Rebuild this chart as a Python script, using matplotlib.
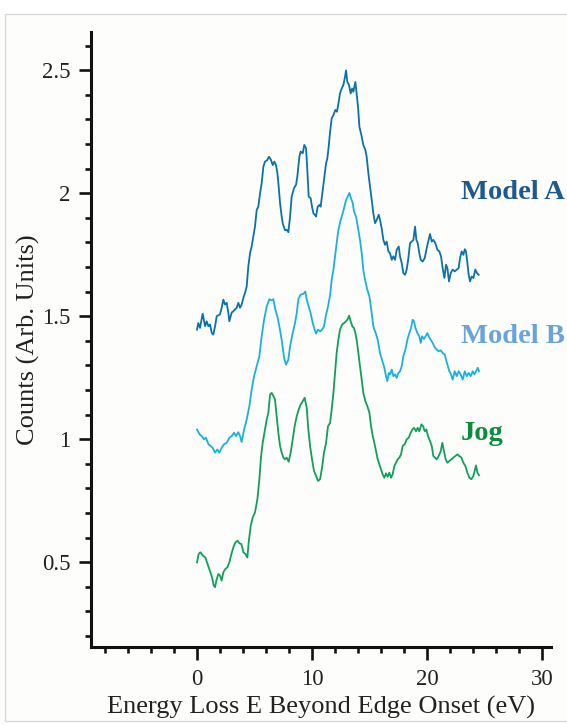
import matplotlib
matplotlib.use("Agg")
import matplotlib.pyplot as plt
from matplotlib.patches import Rectangle
from matplotlib.ticker import MultipleLocator

plt.rcParams['font.family'] = ['Liberation Serif', 'DejaVu Serif']

# ---------------- data ----------------
energy_a = [0.0, 0.11, 0.26, 0.49, 0.70, 0.84, 0.99, 1.13, 1.28, 1.42, 1.57, 1.71, 2.0, 2.14, 2.29,
            2.43, 2.58, 2.72, 2.81, 3.01, 3.16, 3.45, 3.59, 3.74, 3.88, 4.03, 4.17, 4.32, 4.46, 4.61,
            4.75, 4.9, 5.04, 5.19, 5.33, 5.48, 5.62, 5.77, 5.91, 6.12, 6.26, 6.43, 6.58, 6.72, 6.87,
            6.99, 7.10, 7.22, 7.36, 7.45, 7.65, 7.8, 7.94, 8.09, 8.23, 8.43, 8.61, 8.72, 8.9, 9.01,
            9.19, 9.33, 9.48, 9.59, 9.71, 9.88, 10.0, 10.12, 10.26, 10.35, 10.49, 10.64, 10.75, 10.93,
            11.07, 11.22, 11.33, 11.45, 11.57, 11.71, 11.86, 12.03, 12.17, 12.32, 12.43, 12.58, 12.72,
            12.84, 12.96, 13.07, 13.22, 13.36, 13.48, 13.59, 13.77, 13.88, 14.0, 14.12, 14.29, 14.46,
            14.64, 14.75, 14.9, 15.04, 15.19, 15.33, 15.48, 15.62, 15.8, 15.91, 16.06, 16.2, 16.35,
            16.49, 16.64, 16.78, 16.93, 17.07, 17.22, 17.36, 17.54, 17.65, 17.8, 17.94, 18.09, 18.23,
            18.38, 18.52, 18.67, 18.81, 18.96, 19.07, 19.19, 19.33, 19.45, 19.62, 19.8, 19.97, 20.14,
            20.26, 20.41, 20.55, 20.72, 20.9, 21.07, 21.22, 21.36, 21.51, 21.65, 21.77, 21.91, 22.06,
            22.23, 22.41, 22.58, 22.75, 22.87, 23.01, 23.16, 23.28, 23.39, 23.51, 23.62, 23.74, 23.88,
            24.03, 24.2, 24.35, 24.49]
counts_a = [1.445, 1.472, 1.452, 1.510, 1.459, 1.479, 1.459, 1.466, 1.432, 1.425, 1.459, 1.500, 1.507,
            1.534, 1.567, 1.547, 1.554, 1.514, 1.479, 1.514, 1.520, 1.534, 1.554, 1.534, 1.547, 1.574,
            1.594, 1.621, 1.702, 1.756, 1.783, 1.824, 1.864, 1.932, 1.945, 1.999, 2.040, 2.108, 2.128,
            2.135, 2.148, 2.135, 2.114, 2.128, 2.114, 2.081, 2.027, 1.959, 1.905, 1.878, 1.849, 1.851,
            1.841, 1.905, 1.986, 2.020, 2.034, 2.067, 2.148, 2.169, 2.162, 2.196, 2.182, 2.094, 1.986,
            1.979, 1.945, 1.918, 1.911, 1.905, 1.945, 1.952, 1.945, 2.013, 2.067, 2.121, 2.141, 2.189,
            2.250, 2.304, 2.317, 2.338, 2.331, 2.371, 2.405, 2.425, 2.439, 2.466, 2.499, 2.452, 2.439,
            2.405, 2.425, 2.412, 2.452, 2.405, 2.351, 2.270, 2.236, 2.196, 2.175, 2.148, 2.081, 2.027,
            1.973, 1.918, 1.878, 1.891, 1.912, 1.891, 1.857, 1.810, 1.790, 1.803, 1.763, 1.756, 1.729,
            1.743, 1.729, 1.770, 1.783, 1.743, 1.716, 1.675, 1.668, 1.689, 1.736, 1.797, 1.803, 1.810,
            1.864, 1.810, 1.797, 1.756, 1.729, 1.722, 1.736, 1.776, 1.810, 1.834, 1.803, 1.810, 1.797,
            1.770, 1.763, 1.743, 1.695, 1.655, 1.709, 1.695, 1.641, 1.675, 1.689, 1.682, 1.689, 1.695,
            1.736, 1.763, 1.749, 1.772, 1.763, 1.716, 1.668, 1.641, 1.661, 1.655, 1.689, 1.675, 1.668]

energy_b = [0.0, 0.23, 0.41, 0.61, 0.78, 0.99, 1.19, 1.36, 1.57, 1.77, 1.94, 2.14, 2.35, 2.58, 2.81,
            3.01, 3.22, 3.39, 3.59, 3.74, 3.88, 4.09, 4.32, 4.55, 4.75, 4.96, 5.19, 5.42, 5.62, 5.83,
            6.06, 6.29, 6.49, 6.64, 6.81, 6.99, 7.16, 7.36, 7.57, 7.74, 7.94, 8.09, 8.32, 8.52, 8.67,
            8.81, 9.01, 9.25, 9.42, 9.54, 9.71, 9.88, 10.06, 10.23, 10.35, 10.52, 10.7, 10.87, 11.04,
            11.22, 11.39, 11.57, 11.71, 11.86, 12.0, 12.14, 12.29, 12.49, 12.67, 12.78, 12.96, 13.16,
            13.25, 13.39, 13.54, 13.65, 13.83, 14.03, 14.17, 14.32, 14.46, 14.61, 14.81, 14.99, 15.19,
            15.33, 15.54, 15.71, 15.91, 16.12, 16.29, 16.43, 16.55, 16.67, 16.78, 16.93, 17.07, 17.22,
            17.36, 17.51, 17.65, 17.8, 17.94, 18.12, 18.29, 18.46, 18.61, 18.75, 18.87, 18.99, 19.16,
            19.33, 19.45, 19.57, 19.74, 19.91, 20.03, 20.17, 20.32, 20.49, 20.7, 20.84, 21.01, 21.19,
            21.36, 21.54, 21.65, 21.77, 21.94, 22.09, 22.23, 22.41, 22.58, 22.75, 22.93, 23.1, 23.28,
            23.45, 23.62, 23.8, 23.97, 24.12, 24.26, 24.41, 24.52]
counts_b = [1.039, 1.019, 1.012, 0.999, 1.006, 0.979, 0.972, 0.965, 0.945, 0.958, 0.945, 0.965, 0.979,
            0.985, 1.006, 1.012, 1.026, 1.012, 1.028, 1.012, 0.988, 1.039, 1.080, 1.134, 1.202, 1.256,
            1.296, 1.337, 1.418, 1.485, 1.539, 1.569, 1.564, 1.569, 1.526, 1.499, 1.458, 1.404, 1.330,
            1.303, 1.323, 1.377, 1.431, 1.472, 1.512, 1.569, 1.587, 1.591, 1.600, 1.566, 1.539, 1.512,
            1.472, 1.445, 1.429, 1.445, 1.438, 1.445, 1.458, 1.506, 1.539, 1.585, 1.648, 1.688, 1.742,
            1.796, 1.850, 1.891, 1.918, 1.938, 1.972, 1.992, 2.001, 1.979, 1.959, 1.925, 1.904, 1.850,
            1.810, 1.756, 1.688, 1.648, 1.607, 1.580, 1.512, 1.458, 1.431, 1.404, 1.350, 1.317, 1.290,
            1.256, 1.236, 1.269, 1.263, 1.283, 1.256, 1.263, 1.249, 1.269, 1.276, 1.296, 1.337, 1.364,
            1.404, 1.431, 1.452, 1.485, 1.479, 1.452, 1.431, 1.418, 1.391, 1.418, 1.407, 1.421, 1.431,
            1.415, 1.404, 1.391, 1.371, 1.364, 1.357, 1.361, 1.350, 1.344, 1.323, 1.303, 1.276, 1.263,
            1.242, 1.276, 1.256, 1.276, 1.263, 1.242, 1.276, 1.256, 1.269, 1.256, 1.276, 1.263, 1.276,
            1.290, 1.276]

energy_jog = [0.0, 0.14, 0.29, 0.52, 0.72, 0.87, 1.01, 1.16, 1.3, 1.45, 1.57, 1.68, 1.86, 2.0, 2.14,
              2.29, 2.46, 2.64, 2.81, 2.99, 3.16, 3.33, 3.51, 3.68, 3.86, 4.03, 4.2, 4.38, 4.49, 4.67,
              4.84, 5.04, 5.25, 5.42, 5.57, 5.71, 5.88, 6.06, 6.2, 6.35, 6.49, 6.64, 6.78, 6.93, 7.07,
              7.22, 7.36, 7.51, 7.65, 7.8, 7.97, 8.14, 8.32, 8.49, 8.67, 8.84, 9.01, 9.19, 9.36, 9.54,
              9.68, 9.83, 10.0, 10.17, 10.35, 10.52, 10.7, 10.87, 11.04, 11.22, 11.39, 11.57, 11.71,
              11.86, 12.0, 12.14, 12.29, 12.43, 12.61, 12.78, 12.96, 13.1, 13.22, 13.36, 13.51, 13.65,
              13.77, 13.88, 14.03, 14.17, 14.32, 14.46, 14.64, 14.81, 14.99, 15.13, 15.28, 15.42, 15.57,
              15.71, 15.86, 16.0, 16.14, 16.29, 16.43, 16.58, 16.72, 16.87, 17.01, 17.16, 17.3, 17.45,
              17.59, 17.74, 17.88, 18.06, 18.23, 18.41, 18.58, 18.72, 18.87, 19.04, 19.19, 19.33, 19.51,
              19.65, 19.8, 19.94, 20.09, 20.26, 20.41, 20.55, 20.7, 20.84, 21.01, 21.19, 21.33, 21.48,
              21.62, 21.77, 21.94, 22.12, 22.29, 22.46, 22.64, 22.81, 22.99, 23.16, 23.33, 23.51, 23.68,
              23.86, 24.03, 24.17, 24.26, 24.38, 24.52]
counts_jog = [0.499, 0.533, 0.540, 0.526, 0.519, 0.499, 0.479, 0.459, 0.439, 0.405, 0.398, 0.425, 0.452,
              0.445, 0.425, 0.459, 0.472, 0.479, 0.499, 0.533, 0.560, 0.580, 0.587, 0.577, 0.573, 0.540,
              0.533, 0.519, 0.580, 0.648, 0.681, 0.702, 0.756, 0.837, 0.931, 0.985, 1.032, 1.080, 1.107,
              1.181, 1.188, 1.175, 1.161, 1.093, 1.026, 0.972, 0.945, 0.925, 0.918, 0.925, 0.908, 0.945,
              0.999, 1.053, 1.093, 1.120, 1.141, 1.154, 1.168, 1.127, 1.039, 0.972, 0.918, 0.871, 0.851,
              0.830, 0.837, 0.884, 0.945, 0.985, 1.053, 1.066, 1.120, 1.188, 1.269, 1.350, 1.404, 1.445,
              1.465, 1.472, 1.479, 1.488, 1.502, 1.479, 1.458, 1.452, 1.431, 1.404, 1.350, 1.296, 1.242,
              1.188, 1.154, 1.134, 1.107, 1.053, 1.012, 0.985, 0.951, 0.918, 0.897, 0.877, 0.857, 0.843,
              0.861, 0.847, 0.864, 0.843, 0.857, 0.891, 0.904, 0.918, 0.925, 0.938, 0.972, 0.979, 0.999,
              1.006, 1.026, 1.039, 1.046, 1.032, 1.046, 1.032, 1.060, 1.053, 1.032, 1.039, 1.012, 0.992,
              0.972, 0.931, 0.925, 0.918, 0.931, 0.951, 0.985, 0.951, 0.918, 0.904, 0.911, 0.918, 0.925,
              0.931, 0.938, 0.931, 0.925, 0.904, 0.891, 0.864, 0.843, 0.837, 0.850, 0.877, 0.893, 0.864,
              0.853]

series_labels = ["Model A", "Model B", "Jog"]
x_label = "Energy Loss E Beyond Edge Onset (eV)"
y_label = "Counts (Arb. Units)"
x_ticks = [0, 10, 20, 30]
y_ticks = [0.5, 1, 1.5, 2, 2.5]
y_tick_labels = ["0.5", "1", "1.5", "2", "2.5"]

# ---------------- figure ----------------
fig = plt.figure(figsize=(5.67, 7.25), dpi=100)
fig.patch.set_facecolor('white')
frame = Rectangle((5 / 567, 1 - 721 / 725), 1.0, (721 - 14) / 725,
                  transform=fig.transFigure, facecolor='#fdfdfb',
                  edgecolor='#d9d9d9', linewidth=1.0, zorder=-5)
fig.patches.append(frame)

ax = fig.add_axes([91 / 567, 1 - 647 / 725, (551 - 91) / 567, (647 - 32) / 725])
ax.set_facecolor('none')
ax.set_zorder(2)

line_colors = ['#0b72a8', '#19b1e0', '#10a05c']
text_colors = ['#1f5a8c', '#69a3d9', '#0b8d3e']

ax.plot(energy_a, counts_a, color=line_colors[0], lw=1.3)
ax.plot(energy_b, counts_b, color=line_colors[1], lw=1.3)
ax.plot(energy_jog, counts_jog, color=line_colors[2], lw=1.3)

label_pos = [(22.95, 1.976), (22.95, 1.389), (22.9, 0.995)]
for lab, (lx, ly), c in zip(series_labels, label_pos, text_colors):
    ax.text(lx, ly, lab, color=c, fontsize=20.5, fontweight='bold',
            ha='left', va='baseline', clip_on=False)

ax.set_xlim(-9.22, 30.78)
ax.set_ylim(0.155, 2.655)

for s in ['top', 'right']:
    ax.spines[s].set_visible(False)
for s in ['left', 'bottom']:
    ax.spines[s].set_linewidth(2.2)
    ax.spines[s].set_color('#111111')

ax.set_xticks(x_ticks)
ax.set_yticks(y_ticks)
ax.set_yticklabels(y_tick_labels)
ax.xaxis.set_minor_locator(MultipleLocator(2))
ax.yaxis.set_minor_locator(MultipleLocator(0.1))
ax.tick_params(which='major', direction='out', length=9, width=1.9, color='#111111',
               labelsize=16.5, labelcolor='#222222', pad=6)
ax.tick_params(which='minor', direction='out', length=4.5, width=1.9, color='#111111')
ax.tick_params(axis='x', which='major', pad=7)

ax.set_xlabel(x_label, fontsize=19, color='#222222', labelpad=4)
ax.set_ylabel(y_label, fontsize=19, color='#222222', labelpad=1)

fig.savefig('out.png', dpi=100, facecolor=fig.get_facecolor())
